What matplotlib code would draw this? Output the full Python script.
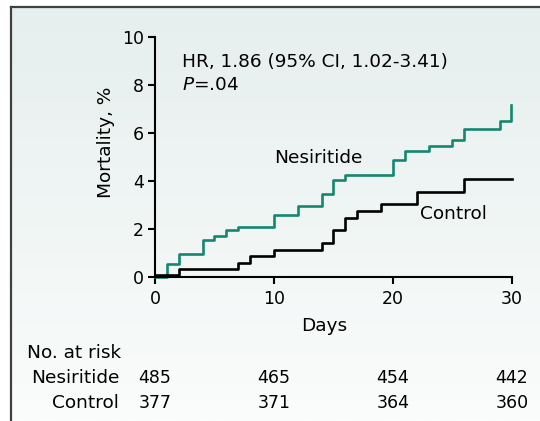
import numpy as np
import matplotlib
matplotlib.use("Agg")
import matplotlib.pyplot as plt
from matplotlib.lines import Line2D
import matplotlib.transforms as mtransforms

plt.rcParams['font.family'] = ['DejaVu Sans']

# Kaplan-Meier style cumulative mortality (%)
nes_days = [0, 1, 2, 4, 5, 6, 7, 10, 12, 14, 15, 16, 20, 21, 23, 25, 26, 29, 29.9]
nes_mort = [0, 0.53, 0.95, 1.53, 1.72, 1.95, 2.1, 2.57, 2.97, 3.45, 4.04, 4.25,
            4.88, 5.27, 5.48, 5.69, 6.16, 6.51, 7.18]
ctl_days = [0, 2, 7, 8, 10, 14, 15, 16, 17, 19, 22, 26, 30]
ctl_mort = [0.1, 0.33, 0.6, 0.89, 1.14, 1.4, 1.95, 2.48, 2.75, 3.03, 3.56, 4.09, 4.09]

risk_days = [0, 10, 20, 30]
nes_risk = [485, 465, 454, 442]
ctl_risk = [377, 371, 364, 360]

green = "#14876e"
fs = 13.3      # words
fs_tick = 12.5

fig = plt.figure(figsize=(5.4, 4.21), dpi=100)

# light gradient panel behind everything
bg = fig.add_axes([0, 0, 1, 1], zorder=-10)
grad = np.linspace(0, 1, 256).reshape(-1, 1)
cmap = matplotlib.colors.LinearSegmentedColormap.from_list("bg", ["#e5efed", "#fbfcfc"])
bg.imshow(grad, aspect="auto", cmap=cmap, extent=[0.02, 1, 0, 0.983])
bg.set_xlim(0, 1)
bg.set_ylim(0, 1)
bg.axis("off")
fig.add_artist(Line2D([0.02, 0.02], [0, 0.983], color="#404040", lw=1.6, transform=fig.transFigure))
fig.add_artist(Line2D([0.02, 1], [0.983, 0.983], color="#404040", lw=1.6, transform=fig.transFigure))

ax = fig.add_axes([0.287, 0.342, 0.661, 0.570])
ax.patch.set_alpha(0)
ax.step(nes_days, nes_mort, where="post", color=green, lw=1.9, clip_on=False)
ax.step(ctl_days, ctl_mort, where="post", color="black", lw=1.9, clip_on=False)

ax.set_xlim(0, 30)
ax.set_ylim(0, 10)
ax.set_xticks([0, 10, 20, 30])
ax.set_yticks([0, 2, 4, 6, 8, 10])
for s in ["top", "right"]:
    ax.spines[s].set_visible(False)
for s in ["left", "bottom"]:
    ax.spines[s].set_linewidth(1.5)
ax.tick_params(direction="out", length=5, width=1.5, labelsize=fs_tick)
ax.tick_params(axis="x", pad=4)
ax.tick_params(axis="y", pad=3)
ax.set_xlabel("Days", fontsize=fs)
ax.xaxis.set_label_coords(0.473, -0.165)
ax.set_ylabel("Mortality, %", fontsize=fs)
ax.yaxis.set_label_coords(-0.112, 0.56)

ax.text(2.3, 8.95, "HR, 1.86 (95% CI, 1.02-3.41)", fontsize=fs, va="center")
ax.text(2.3, 8.0, "$P$=.04", fontsize=fs, va="center")
ax.text(13.7, 4.96, "Nesiritide", fontsize=fs, ha="center", va="center")
ax.text(25.1, 2.63, "Control", fontsize=fs, ha="center", va="center")

# number at risk table
trans = mtransforms.blended_transform_factory(ax.transData, fig.transFigure)
fig.text(0.05, 1 - 353 / 421, "No. at risk", fontsize=fs, va="center")
fig.text(0.221, 1 - 378 / 421, "Nesiritide", fontsize=fs, va="center", ha="right")
fig.text(0.221, 1 - 403 / 421, "Control", fontsize=fs, va="center", ha="right")
for d, n, c in zip(risk_days, nes_risk, ctl_risk):
    ax.text(d, 1 - 378 / 421, str(n), transform=trans, fontsize=fs_tick, ha="center", va="center")
    ax.text(d, 1 - 403 / 421, str(c), transform=trans, fontsize=fs_tick, ha="center", va="center")

fig.savefig("out.png", dpi=100)
